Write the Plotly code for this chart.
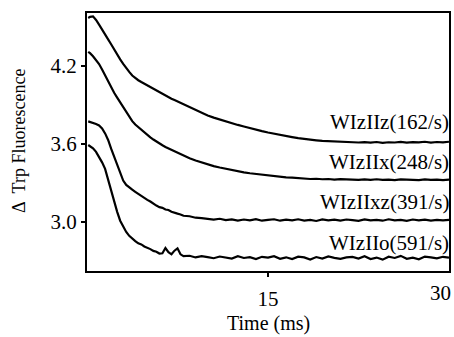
import plotly.graph_objects as go

# time points (ms)
time_ms = [0.1, 0.25, 0.5, 0.75, 1.0, 1.25, 1.5, 1.75, 2.0, 2.25, 2.5, 2.75, 3.0, 3.25,
           3.5, 3.75, 4.0, 4.25, 4.5, 4.75, 5.0, 5.25, 5.5, 5.75, 6.0, 6.25, 6.5, 6.75,
           7.0, 7.25, 7.5, 7.75, 8.0,
           8.5, 9.0, 9.5, 10.0, 10.5, 11.0, 11.5, 12.0, 12.5, 13.0, 13.5, 14.0, 14.5,
           15.0, 15.5, 16.0, 16.5, 17.0, 17.5, 18.0, 18.5, 19.0, 19.5, 20.0, 20.5, 21.0,
           21.5, 22.0, 22.5, 23.0, 23.5, 24.0, 24.5, 25.0, 25.5, 26.0, 26.5, 27.0, 27.5,
           28.0, 28.5, 29.0, 29.5, 30.0]

wizIIz = [4.566, 4.574, 4.578, 4.551, 4.515, 4.480, 4.441, 4.402, 4.364, 4.322, 4.284,
          4.248, 4.214, 4.180, 4.152, 4.124, 4.103, 4.088, 4.074, 4.061, 4.049, 4.035,
          4.021, 4.007, 3.994, 3.980, 3.968, 3.957, 3.946, 3.936, 3.925, 3.912, 3.900,
          3.880, 3.860, 3.838, 3.818, 3.801, 3.786, 3.772, 3.760, 3.745, 3.733, 3.720,
          3.709, 3.697, 3.687, 3.677, 3.668, 3.659, 3.652, 3.644, 3.637, 3.631, 3.627,
          3.622, 3.620, 3.616, 3.618, 3.612, 3.615, 3.610, 3.613, 3.609, 3.614, 3.608,
          3.612, 3.610, 3.615, 3.609, 3.613, 3.611, 3.616, 3.610, 3.614, 3.611, 3.616]

wizIIx = [4.306, 4.296, 4.272, 4.245, 4.212, 4.170, 4.125, 4.078, 4.030, 3.992, 3.955,
          3.918, 3.880, 3.842, 3.806, 3.774, 3.748, 3.727, 3.706, 3.686, 3.667, 3.650,
          3.633, 3.617, 3.602, 3.589, 3.576, 3.565, 3.553, 3.541, 3.530, 3.518, 3.507,
          3.489, 3.472, 3.456, 3.442, 3.429, 3.418, 3.408, 3.398, 3.390, 3.381, 3.374,
          3.368, 3.361, 3.356, 3.350, 3.347, 3.342, 3.340, 3.335, 3.335, 3.330, 3.332,
          3.328, 3.330, 3.325, 3.329, 3.326, 3.328, 3.323, 3.327, 3.324, 3.328, 3.323,
          3.326, 3.322, 3.327, 3.324, 3.326, 3.321, 3.327, 3.323, 3.326, 3.322, 3.325]

wizIIxz = [3.772, 3.768, 3.763, 3.752, 3.741, 3.718, 3.680, 3.630, 3.563, 3.502, 3.440,
           3.372, 3.318, 3.285, 3.264, 3.248, 3.232, 3.215, 3.199, 3.184, 3.170, 3.157,
           3.140, 3.126, 3.114, 3.109, 3.096, 3.092, 3.079, 3.074, 3.064, 3.058, 3.048,
           3.044, 3.033, 3.030, 3.024, 3.019, 3.025, 3.014, 3.020, 3.011, 3.019, 3.013,
           3.022, 3.010, 3.017, 3.021, 3.010, 3.018, 3.012, 3.021, 3.011, 3.016, 3.008,
           3.020, 3.013, 3.018, 3.010, 3.019, 3.014, 3.009, 3.020, 3.012, 3.017, 3.010,
           3.021, 3.013, 3.016, 3.009, 3.019, 3.012, 3.018, 3.011, 3.017, 3.013, 3.016]

wizIIo = [3.591, 3.583, 3.565, 3.538, 3.500, 3.458, 3.408, 3.326, 3.236, 3.152, 3.078,
          3.010, 2.962, 2.924, 2.894, 2.870, 2.854, 2.836, 2.828, 2.812, 2.803, 2.792,
          2.778, 2.772, 2.758, 2.760, 2.800, 2.768, 2.752, 2.780, 2.798, 2.752, 2.738,
          2.741, 2.728, 2.738, 2.731, 2.722, 2.735, 2.726, 2.719, 2.737, 2.724, 2.730,
          2.716, 2.733, 2.727, 2.738, 2.718, 2.729, 2.715, 2.734, 2.728, 2.712, 2.731,
          2.719, 2.736, 2.725, 2.717, 2.728, 2.732, 2.720, 2.738, 2.716, 2.727, 2.711,
          2.734, 2.724, 2.740, 2.718, 2.726, 2.714, 2.735, 2.729, 2.721, 2.733, 2.726]

series = [wizIIz, wizIIx, wizIIxz, wizIIo]
labels = ["WIzIIz(162/s)", "WIzIIx(248/s)", "WIzIIxz(391/s)", "WIzIIo(591/s)"]
label_y = [3.770, 3.461, 3.156, 2.836]

y_ticks = [3.0, 3.6, 4.2]
x_ticks = [15]

FONT = "Liberation Serif"

fig = go.Figure()
for s in series:
    fig.add_trace(go.Scatter(x=time_ms, y=s, mode="lines",
                             line=dict(color="black", width=2.2), showlegend=False,
                             hoverinfo="skip"))

for lab, ly in zip(labels, label_y):
    fig.add_annotation(x=30, y=ly, xref="x", yref="y", text=lab, showarrow=False,
                       xanchor="right", yanchor="middle", xshift=2,
                       font=dict(family=FONT, size=21, color="black"))

# "30" tick label (sits left-shifted at the chart edge)
fig.add_annotation(x=1, y=0, xref="paper", yref="paper", text="30", showarrow=False,
                   xanchor="right", yanchor="middle", xshift=4, yshift=-22,
                   font=dict(family=FONT, size=21, color="black"))
# axis titles
fig.add_annotation(x=0.5, y=0, xref="paper", yref="paper", text="Time (ms)",
                   showarrow=False, xanchor="center", yanchor="middle", yshift=-52,
                   font=dict(family=FONT, size=20, color="black"))
fig.add_annotation(x=0, y=0.504, xref="paper", yref="paper", text="Δ  Trp Fluorescence",
                   showarrow=False, xanchor="center", yanchor="middle", xshift=-68,
                   textangle=-90, font=dict(family=FONT, size=18, color="black"))

fig.update_xaxes(range=[0, 30], tickvals=x_ticks, ticks="outside", ticklen=4,
                 tickwidth=1.5, tickcolor="black", showline=True, linecolor="black",
                 linewidth=2, mirror=True, showgrid=False, zeroline=False,
                 ticklabelstandoff=4,
                 tickfont=dict(family=FONT, size=21, color="black"))
fig.update_yaxes(range=[2.624, 4.604], tickvals=y_ticks, tickformat=".1f",
                 ticks="outside", ticklen=4, tickwidth=1.5, tickcolor="black",
                 showline=True, linecolor="black", linewidth=2, mirror=True,
                 showgrid=False, zeroline=False,
                 tickfont=dict(family=FONT, size=21, color="black"))

fig.update_layout(width=454, height=337, margin=dict(l=87, r=3, t=13, b=66),
                  paper_bgcolor="white", plot_bgcolor="white")

fig.write_html("out.html")
